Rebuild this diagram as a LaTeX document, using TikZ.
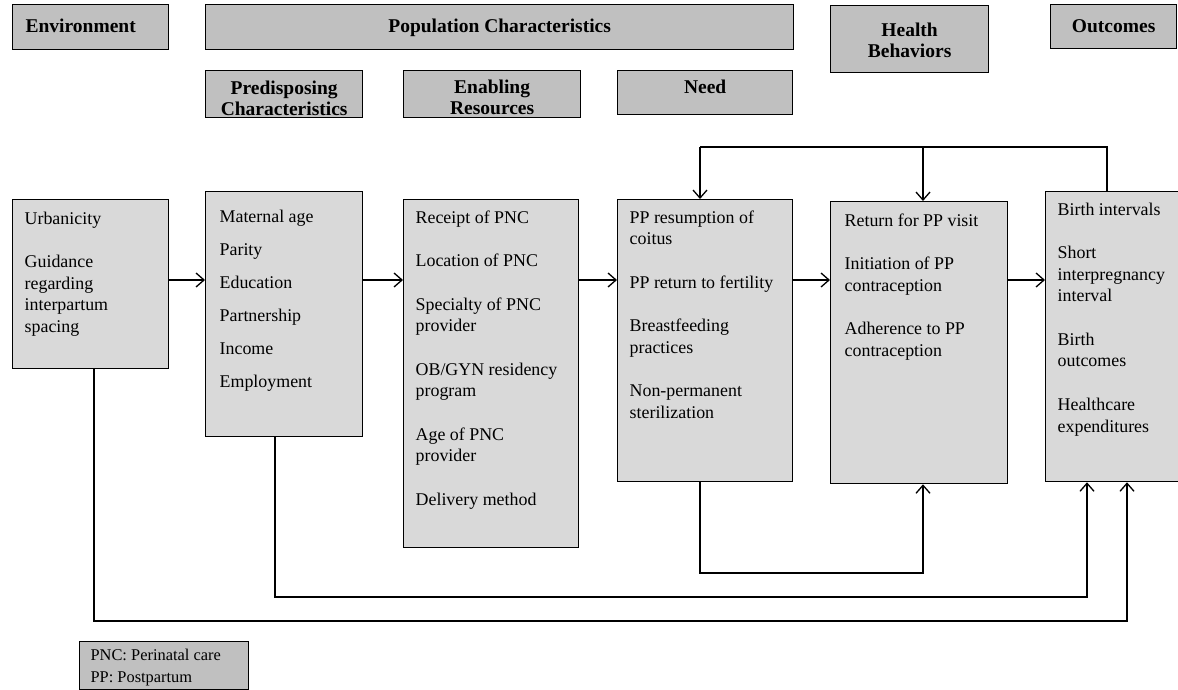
\documentclass[tikz,border=0pt]{standalone}
\usepackage{fontspec}
\setmainfont{Liberation Serif}
\usetikzlibrary{arrows.meta}
\definecolor{hdrgray}{RGB}{192,192,192}
\definecolor{bodygray}{RGB}{217,217,217}
\newcommand{\bodytext}[5]{\parbox[c][#2pt][t]{#1pt}{\raggedright\leftskip=#3pt\relax\vspace*{#4pt}#5}}
\newcommand{\hdrtext}[4]{\parbox[c][#2pt][t]{#1pt}{\centering\vspace*{#3pt}#4}}
\begin{document}
\begin{tikzpicture}[x=1pt,y=-1pt,
  hdr/.style={draw=black, line width=1.3pt, fill=hdrgray, inner sep=0pt, anchor=north west, font=\bfseries\fontsize{19.5}{21}\selectfont},
  bodybox/.style={draw=black, line width=1.3pt, fill=bodygray, inner sep=0pt, anchor=north west, font=\fontsize{17.9}{21.7}\selectfont},
  legbox/.style={draw=black, line width=1.2pt, fill=hdrgray, inner sep=0pt, anchor=north west, font=\fontsize{16.4}{22}\selectfont},
  conn/.style={line width=1.3pt},
  arr/.style={conn, -{Straight Barb[length=8pt,width=14pt]}}]
\useasboundingbox (0,0) rectangle (1178,690);
\fill[white] (0,0) rectangle (1178,690);
\clip (0,0) rectangle (1178,690);

% header boxes
\node[hdr] (env) at (12,4) {\parbox[c][45pt][t]{156pt}{\raggedright\leftskip=13pt\relax\vspace*{14pt}Environment}};
\node[hdr] (pop) at (205,4) {\hdrtext{588}{45}{14}{Population Characteristics}};
\node[hdr] (pred) at (205,70) {\hdrtext{157}{47}{10}{Predisposing\\Characteristics}};
\node[hdr] (enab) at (403,70) {\hdrtext{177}{47}{9}{Enabling\\Resources}};
\node[hdr] (need) at (617,70) {\hdrtext{175}{44}{9}{Need}};
\node[hdr] (hb) at (830,5) {\hdrtext{158}{67}{17}{Health\\Behaviors}};
\node[hdr] (out) at (1050,4) {\hdrtext{126}{44}{15}{Outcomes}};

% body boxes
\node[bodybox] (urb) at (12,199) {\bodytext{156}{169}{12}{12}{Urbanicity\\[21.7pt]Guidance\\regarding\\interpartum\\spacing}};
\node[bodybox] (mat) at (205,191) {\bodytext{157}{245}{14}{18}{Maternal age\\[11.3pt]Parity\\[11.3pt]Education\\[11.3pt]Partnership\\[11.3pt]Income\\[11.3pt]Employment}};
\node[bodybox] (rec) at (403,199) {\bodytext{175}{348}{12}{11}{Receipt of PNC\\[21.7pt]Location of PNC\\[21.7pt]Specialty of PNC\\provider\\[21.7pt]OB/GYN residency\\program\\[21.7pt]Age of PNC\\provider\\[21.7pt]Delivery method}};
\node[bodybox] (pp) at (617,199) {\bodytext{175}{282}{12}{11}{PP resumption of\\coitus\\[21.7pt]PP return to fertility\\[21.7pt]Breastfeeding\\practices\\[21.7pt]Non-permanent\\sterilization}};
\node[bodybox] (ret) at (830,201) {\bodytext{177}{282}{14}{12}{Return for PP visit\\[21.7pt]Initiation of PP\\contraception\\[21.7pt]Adherence to PP\\contraception}};
\node[bodybox] (birth) at (1045,191) {\bodytext{145}{290}{12}{11}{Birth intervals\\[21.7pt]Short\\interpregnancy\\interval\\[21.7pt]Birth\\outcomes\\[21.7pt]Healthcare\\expenditures}};

% legend
\node[legbox] (leg) at (79,641) {\bodytext{169}{48}{11}{8}{PNC: Perinatal care\\PP: Postpartum}};

% coordinates for routing
\coordinate (row) at (0,280);
\coordinate (fb) at (0,147);
\coordinate (xpp) at (700,0);
\coordinate (xret) at (923,0);
\coordinate (xbirth) at (1107,0);
\coordinate (b1) at (0,573);
\coordinate (b2) at (0,597);
\coordinate (b3) at (0,621);
\coordinate (xmat) at (275,0);
\coordinate (xurb) at (94,0);
\coordinate (xb1) at (1087,0);
\coordinate (xb2) at (1127,0);

% main flow
\draw[arr] (urb.east |- row) -- (mat.west |- row);
\draw[arr] (mat.east |- row) -- (rec.west |- row);
\draw[arr] (rec.east |- row) -- (pp.west |- row);
\draw[arr] (pp.east |- row) -- (ret.west |- row);
\draw[arr] (ret.east |- row) -- (birth.west |- row);

% feedback
\draw[conn] (birth.north -| xbirth) -- (xbirth |- fb) -- (xpp |- fb);
\draw[arr] (xpp |- fb) -- (pp.north -| xpp);
\draw[arr] (xret |- fb) -- (ret.north -| xret);

% bottom routes
\draw[arr] (pp.south -| xpp) -- (xpp |- b1) -- (xret |- b1) -- (ret.south -| xret);
\draw[arr] (mat.south -| xmat) -- (xmat |- b2) -- (xb1 |- b2) -- (birth.south -| xb1);
\draw[arr] (urb.south -| xurb) -- (xurb |- b3) -- (xb2 |- b3) -- (birth.south -| xb2);
\end{tikzpicture}
\end{document}
